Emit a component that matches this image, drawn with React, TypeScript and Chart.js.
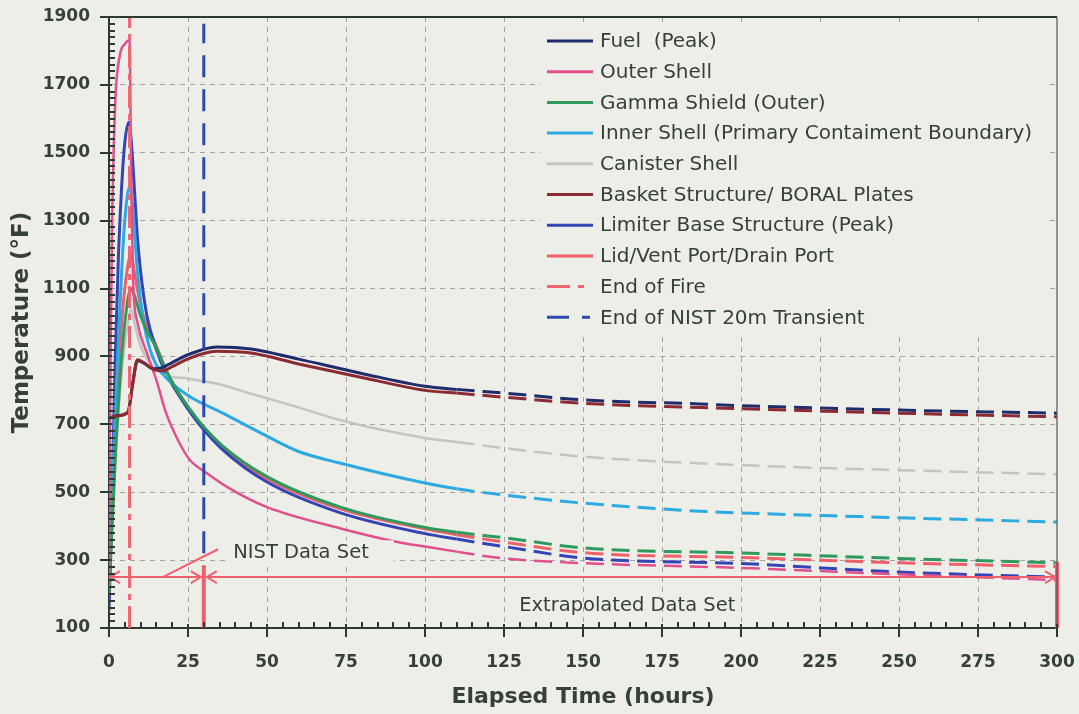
import React, { useEffect, useRef } from "react";
import { Chart, registerables } from "chart.js";

Chart.register(...registerables);

const FONT = "'DejaVu Sans', 'Liberation Sans', sans-serif";
const BG = "#eeeee9";
const TEXT = "#36403a";
const AXIS = "#2c3a32";
const ANNOT = "#f0606c";

// ---- data: [hours, °F] ----
const fuelPeak: [number, number][] = [
  [0, 718], [2.5, 725], [6, 736], [7.5, 820], [9, 888], [11, 880], [14, 864], [17, 868], [20, 882],
  [25, 905], [34, 928], [45, 922], [60, 892], [80, 850], [100, 812], [110, 803], [125, 792],
  [150, 772], [187, 760], [200, 755], [250, 742], [300, 733],
];
const outerShell: [number, number][] = [
  [0, 220], [0.5, 900], [1, 1300], [2, 1650], [3.5, 1790], [5, 1820], [6.5, 1832], [7, 1450],
  [7.6, 1130], [9, 1000], [12, 910], [15, 830], [18, 735], [22, 650], [25.6, 595], [31, 556],
  [38, 512], [50, 456], [73, 394], [92, 352], [100, 340], [110, 325], [124, 306], [150, 291],
  [200, 277], [250, 258], [300, 241],
];
const gammaShield: [number, number][] = [
  [0, 200], [1, 400], [2, 600], [4, 900], [6, 1070], [7, 1100], [8, 1080], [10, 1020], [12, 975],
  [15, 925], [18, 860], [21.5, 800], [25, 752], [29, 703], [36, 636], [50, 546], [73, 457],
  [100, 396], [110, 382], [125, 366], [150, 336], [200, 321], [250, 305], [300, 292],
];
const innerShell: [number, number][] = [
  [0, 250], [1, 500], [2, 750], [3, 950], [4, 1150], [5, 1300], [6.5, 1400], [7.5, 1340],
  [9, 1150], [11, 1000], [13, 920], [15, 875], [18, 838], [25, 785], [36, 733], [50, 665],
  [60, 620], [73, 586], [100, 527], [110, 510], [125, 492], [150, 468], [187, 444], [200, 439],
  [250, 425], [300, 412],
];
const canisterShell: [number, number][] = [
  [0, 300], [2, 600], [4, 850], [6, 1000], [7, 1040], [8, 1000], [10, 930], [13, 880], [18, 845],
  [25, 835], [35, 818], [45, 790], [60, 750], [73, 713], [100, 660], [110, 648], [125, 630],
  [150, 605], [200, 580], [250, 565], [300, 553],
];
const basketBoral: [number, number][] = [
  [0, 718], [2.5, 725], [6, 736], [7.5, 820], [9, 890], [11, 882], [14, 862], [17, 858], [20, 870],
  [25, 893], [34, 915], [45, 910], [60, 878], [80, 838], [100, 800], [110, 792], [125, 780],
  [150, 762], [200, 746], [250, 733], [300, 722],
];
const limiterBase: [number, number][] = [
  [0, 150], [1, 500], [2, 900], [3, 1200], [4, 1400], [5, 1530], [6.3, 1590], [7, 1540], [8, 1400],
  [9, 1250], [10, 1150], [12, 1020], [15, 920], [18, 850], [21.5, 795], [25, 745], [29, 695],
  [36, 625], [50, 530], [73, 440], [100, 378], [110, 362], [125, 340], [150, 306], [200, 290],
  [250, 265], [300, 250],
];
const lidPorts: [number, number][] = [
  [0, 180], [1, 450], [2, 700], [4, 1000], [6, 1170], [7, 1200], [8, 1150], [10, 1050], [12, 990],
  [15, 930], [18, 860], [21.5, 800], [25, 750], [29, 700], [36, 632], [50, 540], [73, 452],
  [100, 392], [110, 375], [125, 353], [150, 322], [200, 308], [250, 292], [300, 281],
];

const endOfFire: [number, number][] = [[6.5, 100], [6.5, 1900]];
const endOfNist: [number, number][] = [[30, 320], [30, 1880]];

const EXTRAP_START = 110; // hours: curves are dashed beyond this
const X_MIN = 0, X_MAX = 300, X_STEP = 25, X_MINOR = 5;
const Y_MIN = 100, Y_MAX = 1900, Y_STEP = 200, Y_MINOR = 20;

// annotation values
const arrowTemp = 250;
const nistSpan: [number, number] = [0, 30];
const extrapSpan: [number, number] = [30, 300];
const barTops: [number, number][] = [[30, 285], [300, 295]];
const nistLeader: [number, number][] = [[17, 250], [34.5, 332]];
const nistLabelPos: [number, number] = [39.3, 323];
const extrapLabelPos: [number, number] = [164, 165];

type Series = { label: string; data: [number, number][]; color: string; width: number; dash?: number[]; vertical?: boolean; order?: number };

const series: Series[] = [
  { label: "Fuel  (Peak)", data: fuelPeak, color: "#1f2c6c", width: 3 },
  { label: "Outer Shell", data: outerShell, color: "#e0508e", width: 2.5 },
  { label: "Gamma Shield (Outer)", data: gammaShield, color: "#2f9a5c", width: 3 },
  { label: "Inner Shell (Primary Contaiment Boundary)", data: innerShell, color: "#2ba9e0", width: 3 },
  { label: "Canister Shell", data: canisterShell, color: "#c4c4c4", width: 2.5 },
  { label: "Basket Structure/ BORAL Plates", data: basketBoral, color: "#8c2a32", width: 3, order: -0.5 },
  { label: "Limiter Base Structure (Peak)", data: limiterBase, color: "#3444b4", width: 3 },
  { label: "Lid/Vent Port/Drain Port", data: lidPorts, color: "#f0606a", width: 3 },
  { label: "End of Fire", data: endOfFire, color: "#f06474", width: 3, dash: [22, 6, 6, 6], vertical: true },
  { label: "End of NIST 20m Transient", data: endOfNist, color: "#2c4aac", width: 3, dash: [22, 12], vertical: true },
];

const decorPlugin = {
  id: "decor",
  afterDraw(chart: any) {
    const { ctx, chartArea: a, scales } = chart;
    const xs = scales.x, ys = scales.y;
    ctx.save();
    // top & right border
    ctx.strokeStyle = AXIS;
    ctx.lineWidth = 2;
    ctx.beginPath();
    ctx.moveTo(a.left, a.top);
    ctx.lineTo(a.right, a.top);
    ctx.stroke();
    ctx.lineWidth = 1.2;
    ctx.strokeStyle = "#555";
    ctx.beginPath();
    ctx.moveTo(a.right, a.top);
    ctx.lineTo(a.right, a.bottom);
    ctx.stroke();
    // ticks
    ctx.strokeStyle = AXIS;
    ctx.lineWidth = 2;
    ctx.beginPath();
    for (let v = Y_MIN; v <= Y_MAX + 1e-6; v += Y_MINOR) {
      const y = Math.round(ys.getPixelForValue(v));
      const major = Math.abs(((v - Y_MIN) % Y_STEP)) < 1e-6;
      if (major) { ctx.moveTo(a.left - 9, y); ctx.lineTo(a.left + 3, y); }
      else { ctx.moveTo(a.left, y); ctx.lineTo(a.left + 6, y); }
    }
    for (let v = X_MIN; v <= X_MAX + 1e-6; v += X_MINOR) {
      const x = Math.round(xs.getPixelForValue(v));
      const major = Math.abs(v % X_STEP) < 1e-6;
      if (major) { ctx.moveTo(x, a.bottom - 4); ctx.lineTo(x, a.bottom + 9); }
      else { ctx.moveTo(x, a.bottom - 6); ctx.lineTo(x, a.bottom); }
    }
    ctx.stroke();
    ctx.restore();

    // legend
    const lx0 = 541, ly0 = 25, lw = 505, lh = 310;
    ctx.save();
    ctx.fillStyle = BG;
    ctx.fillRect(lx0, ly0, lw, lh);
    const rowY0 = 41, rowStep = 30.7;
    ctx.font = `20px ${FONT}`;
    ctx.textBaseline = "middle";
    series.forEach((s, i) => {
      const y = rowY0 + i * rowStep;
      ctx.strokeStyle = s.color;
      ctx.lineWidth = 3;
      ctx.setLineDash(s.dash ? (s.vertical && s.dash.length > 2 ? [23, 8, 6, 20] : [22, 13, 8, 20]) : []);
      ctx.beginPath();
      ctx.moveTo(547, y);
      ctx.lineTo(593, y);
      ctx.stroke();
      ctx.setLineDash([]);
      ctx.fillStyle = TEXT;
      ctx.fillText(s.label, 600, y + 1);
    });
    ctx.restore();
  },
};

const annotPlugin = {
  id: "annot",
  afterDatasetsDraw(chart: any) {
    const { ctx, scales } = chart;
    const X = (v: number) => scales.x.getPixelForValue(v);
    const Y = (v: number) => scales.y.getPixelForValue(v);
    ctx.save();
    ctx.strokeStyle = ANNOT;
    ctx.fillStyle = ANNOT;
    const yA = Y(arrowTemp);
    const arrow = (x1: number, x2: number) => {
      ctx.lineWidth = 2;
      ctx.beginPath();
      ctx.moveTo(x1, yA); ctx.lineTo(x2, yA);
      ctx.moveTo(x1 + 11, yA - 6); ctx.lineTo(x1 + 1, yA); ctx.lineTo(x1 + 11, yA + 6);
      ctx.moveTo(x2 - 11, yA - 6); ctx.lineTo(x2 - 1, yA); ctx.lineTo(x2 - 11, yA + 6);
      ctx.stroke();
    };
    arrow(X(nistSpan[0]), X(nistSpan[1]) - 2);
    arrow(X(extrapSpan[0]) + 2, X(extrapSpan[1]) - 1);
    // vertical bars
    ctx.lineWidth = 4;
    ctx.beginPath();
    barTops.forEach(([t, top]) => {
      ctx.moveTo(X(t), Y(Y_MIN));
      ctx.lineTo(X(t), Y(top));
    });
    ctx.stroke();
    // leader
    ctx.lineWidth = 2;
    ctx.beginPath();
    ctx.moveTo(X(nistLeader[0][0]), Y(nistLeader[0][1]));
    ctx.lineTo(X(nistLeader[1][0]), Y(nistLeader[1][1]));
    ctx.stroke();
    // labels
    ctx.font = `19.5px ${FONT}`;
    ctx.textBaseline = "middle";
    const nx = X(nistLabelPos[0]), ny = Y(nistLabelPos[1]);
    const nistText = "NIST Data Set";
    const w = ctx.measureText(nistText).width;
    ctx.fillStyle = BG;
    ctx.fillRect(nx - 3, ny - 12, w + 28, 24);
    ctx.fillStyle = TEXT;
    ctx.textAlign = "left";
    ctx.fillText(nistText, nx, ny + 1);
    ctx.textAlign = "center";
    ctx.fillText("Extrapolated Data Set", X(extrapLabelPos[0]), Y(extrapLabelPos[1]));
    ctx.restore();
  },
};

export default function App() {
  const ref = useRef<HTMLCanvasElement>(null);
  useEffect(() => {
    if (!ref.current) return;
    const datasets = series.map((s) => ({
      label: s.label,
      data: s.data.map(([x, y]) => ({ x, y })),
      borderColor: s.color,
      backgroundColor: s.color,
      borderWidth: s.width,
      borderDash: s.dash || [],
      pointRadius: 0,
      fill: false,
      order: s.vertical ? -1 : s.order ?? 0,
      cubicInterpolationMode: s.vertical ? "default" : "monotone",
      segment: s.vertical
        ? undefined
        : { borderDash: (c: any) => (c.p0.parsed.x >= EXTRAP_START ? [18, 8] : undefined) },
    }));
    const chart = new Chart(ref.current, {
      type: "line",
      data: { datasets: datasets as any },
      options: {
        animation: false,
        responsive: false,
        devicePixelRatio: 1,
        parsing: false as any,
        layout: { padding: { top: 17, right: 22, left: 0, bottom: 0 } },
        plugins: { legend: { display: false }, tooltip: { enabled: false } },
        scales: {
          x: {
            type: "linear",
            min: X_MIN,
            max: X_MAX,
            afterFit: (s: any) => { s.height = 86; s.paddingLeft = 0; s.paddingRight = 0; },
            ticks: { stepSize: X_STEP, color: TEXT, font: { family: FONT, size: 17, weight: "bold" }, padding: 24, maxRotation: 0, callback: (v: any) => String(v) },
            grid: {
              drawTicks: false,
              lineWidth: 1,
              color: (c: any) => (c.tick && (c.tick.value === X_MIN || c.tick.value === X_MAX) ? "rgba(0,0,0,0)" : "#a2a2a2"),
            },
            border: { display: true, color: AXIS, width: 2, dash: [5, 5] },
            title: { display: true, text: "Elapsed Time (hours)", color: TEXT, font: { family: FONT, size: 22, weight: "bold" }, padding: { bottom: 4, top: 0 } },
          },
          y: {
            type: "linear",
            min: Y_MIN,
            max: Y_MAX,
            afterFit: (s: any) => { s.width = 109; s.paddingTop = 0; s.paddingBottom = 0; },
            ticks: { stepSize: Y_STEP, color: TEXT, font: { family: FONT, size: 17, weight: "bold" }, padding: 19, callback: (v: any) => String(v) },
            grid: {
              drawTicks: false,
              lineWidth: 1,
              color: (c: any) => (c.tick && (c.tick.value === Y_MIN || c.tick.value === Y_MAX) ? "rgba(0,0,0,0)" : "#a2a2a2"),
            },
            border: { display: true, color: AXIS, width: 2, dash: [5, 5] },
            title: { display: true, text: "Temperature (°F)", color: TEXT, font: { family: FONT, size: 23, weight: "bold" }, padding: { top: 8, bottom: 0 } },
          },
        },
      },
      plugins: [annotPlugin, decorPlugin],
    });
    return () => chart.destroy();
  }, []);
  return (
    <div style={{ position: "fixed", left: 0, top: 0, width: 1079, height: 714, background: BG }}>
      <canvas ref={ref} width={1079} height={714} style={{ display: "block" }} />
    </div>
  );
}
